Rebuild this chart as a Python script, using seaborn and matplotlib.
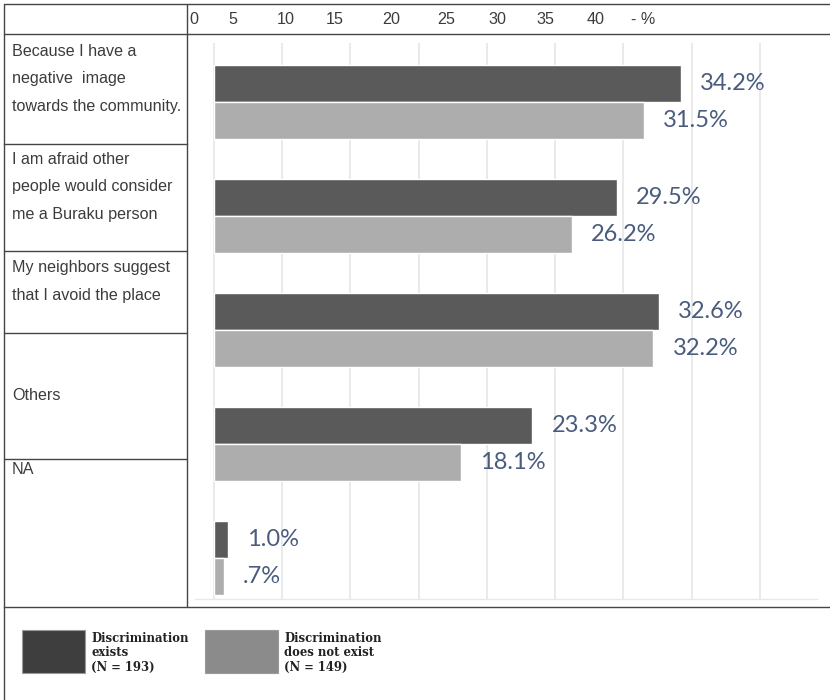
import matplotlib
matplotlib.use("Agg")
import matplotlib.pyplot as plt
from matplotlib.lines import Line2D
from matplotlib.patches import Rectangle
import pandas as pd
import seaborn as sns

# ---- data -------------------------------------------------------------
categories = [
    "Because I have a\nnegative  image\ntowards the community.",
    "I am afraid other\npeople would consider\nme a Buraku person",
    "My neighbors suggest\nthat I avoid the place",
    "Others",
    "NA",
]
discrimination_exists = [34.2, 29.5, 32.6, 23.3, 1.0]
discrimination_not_exist = [31.5, 26.2, 32.2, 18.1, 0.7]
series_names = ["Discrimination exists", "Discrimination does not exist"]
legend_texts = [
    "Discrimination\nexists\n(N = 193)",
    "Discrimination\ndoes not exist\n(N = 149)",
]
header_labels = ["0", "5", "10", "15", "20", "25", "30", "35", "40", "- %"]

# ---- styling ----------------------------------------------------------
sns.set_theme(style="white")
plt.rcParams["font.family"] = ["Liberation Sans", "DejaVu Sans"]

W, H = 830, 700
bar_colors = ["#5a5a5a", "#adadad"]
swatch_colors = ["#3e3e3e", "#8b8b8b"]
label_color = "#4a5c7e"
cell_text_color = "#3c3c3c"
rule_color = "#454545"
cell_font = dict(fontsize=11.6, color=cell_text_color)


def fx(px):
    return px / W


def fy(py):
    return 1 - py / H


df = pd.DataFrame({
    "category": categories * 2,
    "value": discrimination_exists + discrimination_not_exist,
    "series": [series_names[0]] * len(categories) + [series_names[1]] * len(categories),
})

fig = plt.figure(figsize=(W / 100, H / 100), dpi=100)
fig.patch.set_facecolor("white")

# chart area inside the table body
ax = fig.add_axes([fx(195), fy(599), fx(817) - fx(195), fy(43) - fy(599)])
sns.barplot(
    data=df, y="category", x="value", hue="series", order=categories,
    hue_order=series_names, palette=bar_colors, orient="h", width=0.65,
    saturation=1, legend=False, ax=ax, zorder=3,
)
ax.set_xlim(-1.39, 44.18)
ax.set_ylim(4.36, -0.518)
ax.set_xticks(range(0, 41, 5))
ax.xaxis.grid(True, color="#e4e4e4", linewidth=1.1, zorder=0)
ax.yaxis.grid(False)
ax.set_axisbelow(True)
ax.tick_params(left=False, bottom=False, labelleft=False, labelbottom=False)
ax.set_xlabel("")
ax.set_ylabel("")
for side in ["top", "left", "right"]:
    ax.spines[side].set_visible(False)
ax.spines["bottom"].set_color("#e8e8e8")
ax.spines["bottom"].set_linewidth(1.0)

# value labels beside each bar
for container in ax.containers:
    labels = []
    for bar in container:
        v = bar.get_width()
        s = f"{v:.1f}%"
        if s.startswith("0."):
            s = s[1:]
        labels.append(s)
    ax.bar_label(container, labels=labels, padding=14, color=label_color,
                 fontsize=17, family=["Lato", "DejaVu Sans"])

# ---- table rules ------------------------------------------------------
def hline(y, x0, x1):
    fig.add_artist(Line2D([fx(x0), fx(x1)], [fy(y), fy(y)], color=rule_color, lw=1.0))


def vline(x, y0, y1):
    fig.add_artist(Line2D([fx(x), fx(x)], [fy(y0), fy(y1)], color=rule_color, lw=1.0))


hline(4, 4, 830)
hline(34, 4, 830)
hline(607, 4, 830)
vline(4, 4, 700)
vline(187, 4, 607)
for y in [144, 251, 333, 459]:
    hline(y, 4, 187)

# header scale text
header_x = [194, 233, 286, 335, 391, 446, 497, 545, 596, 643]
for lab, x in zip(header_labels, header_x):
    fig.text(fx(x), fy(19), lab, ha="center", va="center", **cell_font)

# category cells
first_line_y = [52, 160, 268, 396, 470]
line_step = 27
for cat, y0 in zip(categories, first_line_y):
    for k, line in enumerate(cat.split("\n")):
        fig.text(fx(12), fy(y0 + k * line_step), line, ha="left", va="center",
                 **cell_font)

# legend row
swatch_boxes = [(22, 630, 63, 43), (205, 630, 73, 43)]
text_x = [91, 284]
for (x, y, w, h), col, txt, tx in zip(swatch_boxes, swatch_colors, legend_texts, text_x):
    fig.add_artist(Rectangle((fx(x), fy(y + h)), w / W, h / H, facecolor=col,
                             edgecolor="#9a9a9a", lw=0.8, transform=fig.transFigure))
    for k, line in enumerate(txt.split("\n")):
        fig.text(fx(tx), fy(639 + k * 14), line, ha="left", va="center",
                 fontsize=8.4, fontweight="bold", family=["DejaVu Serif"],
                 color="#222222")

fig.savefig("out.png", dpi=100, facecolor="white")
